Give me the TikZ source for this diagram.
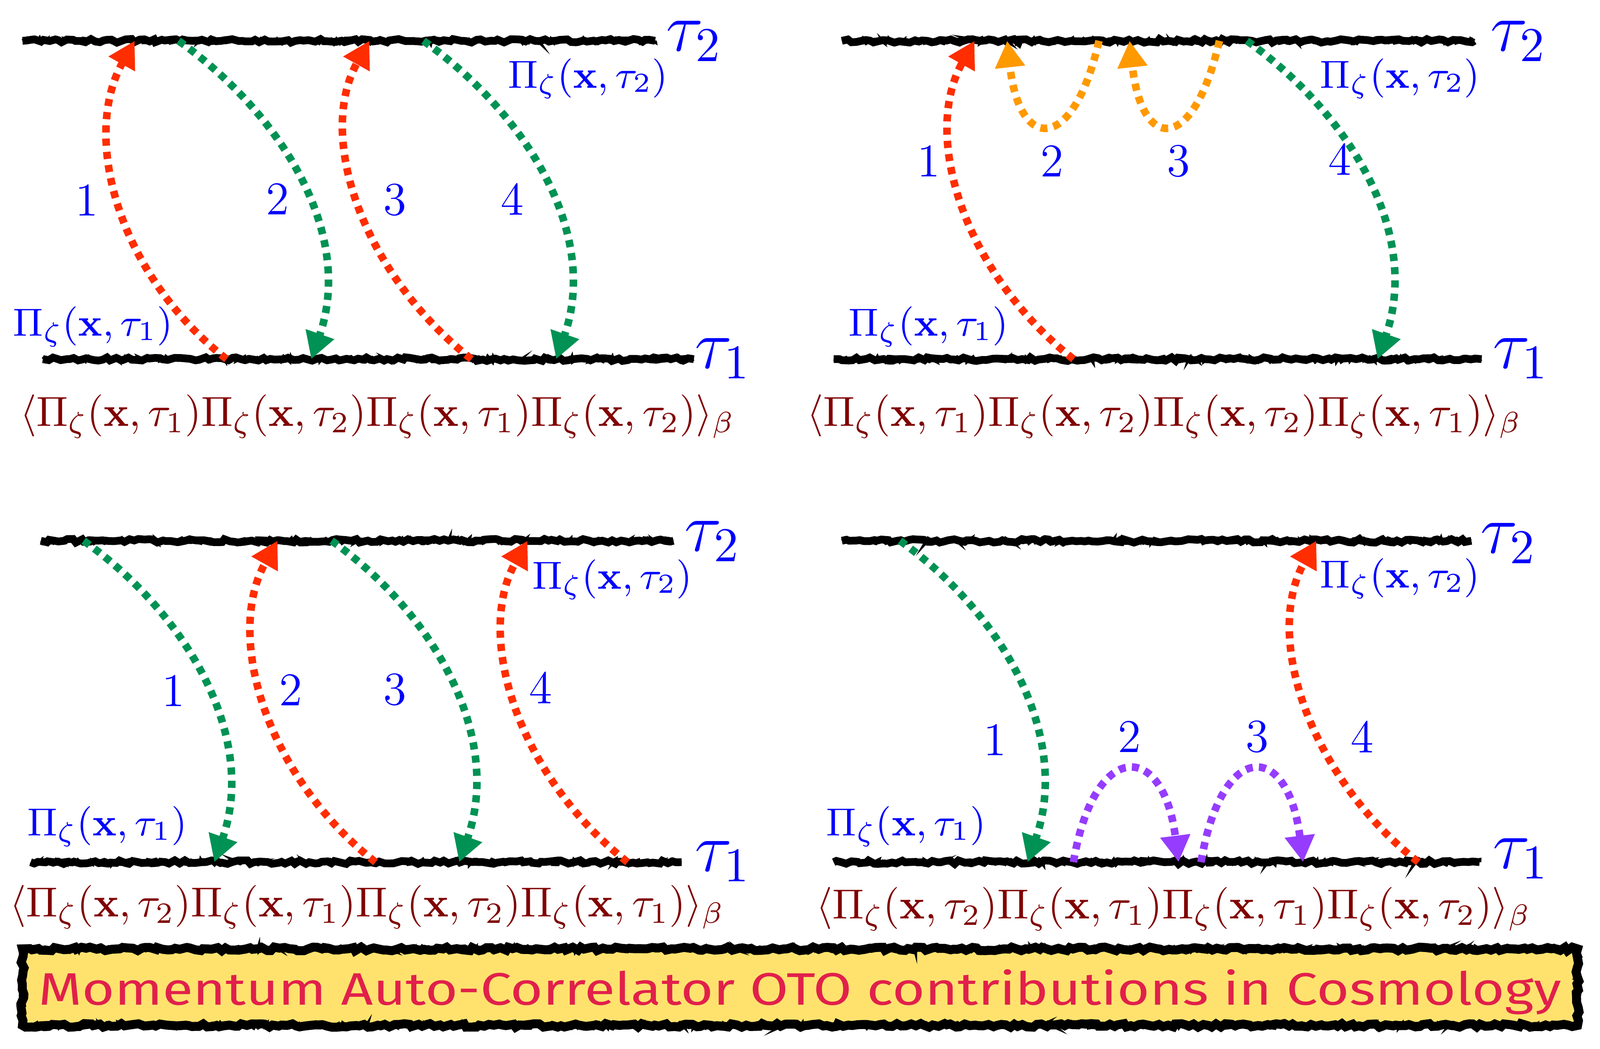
\RequirePackage{fix-cm}
\documentclass[tikz,border=0pt]{standalone}
\usepackage[no-math]{fontspec}
\usepackage{graphicx}
\usetikzlibrary{arrows.meta,decorations.pathmorphing}
\newfontfamily\titlefont{Fira Sans}
\definecolor{arred}{RGB}{255,45,0}
\definecolor{argreen}{RGB}{0,146,84}
\definecolor{arorange}{RGB}{255,153,0}
\definecolor{arpurple}{RGB}{150,60,255}
\definecolor{corrred}{RGB}{128,0,0}
\definecolor{titlefill}{RGB}{255,226,110}
\definecolor{titletext}{RGB}{225,32,75}
\newcommand{\PiZ}[1]{\Pi_\zeta(\mathbf{x},\tau_{#1})}
\tikzset{
  lbl/.style={text=blue, font=\fontsize{9.6}{11}\selectfont, inner sep=0pt},
  num/.style={text=blue, font=\fontsize{11.5}{13}\selectfont, inner sep=0pt},
  taulbl/.style={text=blue, font=\fontsize{17}{20}\selectfont, inner sep=0pt, anchor=base west},
  corr/.style={text=corrred, font=\fontsize{10.3}{12}\selectfont, inner sep=0pt},
  chalk/.style={line width=1.9pt, black, decorate, decoration={random steps, segment length=1.1pt, amplitude=0.45pt}},
  chalkb/.style={line width=0.8pt, black, decorate, decoration={random steps, segment length=0.8pt, amplitude=0.7pt}},
  arr/.style={line width=1.85pt, dash pattern=on 1.75pt off 1.5pt, -{Triangle[length=6.5pt,width=7pt]}},
  redarr/.style={arr, draw=arred, arred},
  greenarr/.style={arr, draw=argreen, argreen},
  orarr/.style={arr, draw=arorange, arorange},
  puarr/.style={arr, draw=arpurple, arpurple},
}
\newcommand{\upleft}[2]{\draw[redarr] (#1) .. controls +(-108,-85) and +(-52,93) .. (#2);}
\newcommand{\downright}[2]{\draw[greenarr] (#1) .. controls +(105,75) and +(42,-120) .. (#2);}
\newcommand{\chalkline}[2]{\draw[chalk] (#1) -- (#2); \draw[chalkb] (#1) -- (#2);}
\begin{document}
\begin{tikzpicture}[x=0.25pt,y=-0.25pt]
\useasboundingbox (0,0) rectangle (1568,1028);

% ---------------- Top-left panel ----------------
\coordinate (tlTa) at (22,40);  \coordinate (tlTb) at (642,40);
\coordinate (tlBa) at (42,352); \coordinate (tlBb) at (680,352);
\chalkline{tlTa}{tlTb}
\chalkline{tlBa}{tlBb}
\node[taulbl] (tltau2) at (652,50) {$\tau_2$};
\node[taulbl] (tltau1) at (680,361) {$\tau_1$};
\node[lbl] (tlpi2) at (576,77) {$\PiZ{2}$};
\node[lbl] (tlpi1) at (91,320) {$\PiZ{1}$};
\node[corr] (tlcorr) at (370,408) {$\langle\PiZ{1}\PiZ{2}\PiZ{1}\PiZ{2}\rangle_\beta$};
\coordinate (tl1s) at (222,352); \coordinate (tl1e) at (132,40);
\coordinate (tl2s) at (175,40);  \coordinate (tl2e) at (305,352);
\coordinate (tl3s) at (462,352); \coordinate (tl3e) at (362,40);
\coordinate (tl4s) at (415,40);  \coordinate (tl4e) at (545,352);
\upleft{tl1s}{tl1e}
\downright{tl2s}{tl2e}
\upleft{tl3s}{tl3e}
\downright{tl4s}{tl4e}
\node[num] (tln1) at (85,196) {1};
\node[num] (tln2) at (272,195) {2};
\node[num] (tln3) at (387,196) {3};
\node[num] (tln4) at (502,195) {4};

% ---------------- Top-right panel ----------------
\coordinate (trTa) at (825,40);  \coordinate (trTb) at (1445,40);
\coordinate (trBa) at (817,352); \coordinate (trBb) at (1452,352);
\chalkline{trTa}{trTb}
\chalkline{trBa}{trBb}
\node[taulbl] (trtau2) at (1460,50) {$\tau_2$};
\node[taulbl] (trtau1) at (1462,361) {$\tau_1$};
\node[lbl] (trpi2) at (1372,77) {$\PiZ{2}$};
\node[lbl] (trpi1) at (910,320) {$\PiZ{1}$};
\node[corr] (trcorr) at (1141,408) {$\langle\PiZ{1}\PiZ{2}\PiZ{2}\PiZ{1}\rangle_\beta$};
\coordinate (tr1s) at (1052,352); \coordinate (tr1e) at (955,40);
\coordinate (tr2s) at (1077,40);  \coordinate (tr2e) at (987,40);
\coordinate (tr3s) at (1195,40);  \coordinate (tr3e) at (1107,40);
\coordinate (tr4s) at (1222,40);  \coordinate (tr4e) at (1350,352);
\upleft{tr1s}{tr1e}
\draw[orarr] (tr2s) .. controls +(-25,110) and +(12,110) .. (tr2e);
\draw[orarr] (tr3s) .. controls +(-25,110) and +(12,110) .. (tr3e);
\downright{tr4s}{tr4e}
\node[num] (trn1) at (910,158) {1};
\node[num] (trn2) at (1031,158) {2};
\node[num] (trn3) at (1155,158) {3};
\node[num] (trn4) at (1313,156) {4};

% ---------------- Bottom-left panel ----------------
\coordinate (blTa) at (40,530);  \coordinate (blTb) at (660,530);
\coordinate (blBa) at (30,845);  \coordinate (blBb) at (668,845);
\chalkline{blTa}{blTb}
\chalkline{blBa}{blBb}
\node[taulbl] (bltau2) at (670,540) {$\tau_2$};
\node[taulbl] (bltau1) at (680,854) {$\tau_1$};
\node[lbl] (blpi2) at (600,568) {$\PiZ{2}$};
\node[lbl] (blpi1) at (105,810) {$\PiZ{1}$};
\node[corr] (blcorr) at (360,889) {$\langle\PiZ{2}\PiZ{1}\PiZ{2}\PiZ{1}\rangle_\beta$};
\coordinate (bl1s) at (82,530);  \coordinate (bl1e) at (210,845);
\coordinate (bl2s) at (368,845); \coordinate (bl2e) at (272,530);
\coordinate (bl3s) at (325,530); \coordinate (bl3e) at (450,845);
\coordinate (bl4s) at (615,845); \coordinate (bl4e) at (517,530);
\downright{bl1s}{bl1e}
\upleft{bl2s}{bl2e}
\downright{bl3s}{bl3e}
\upleft{bl4s}{bl4e}
\node[num] (bln1) at (170,677) {1};
\node[num] (bln2) at (285,676) {2};
\node[num] (bln3) at (387,676) {3};
\node[num] (bln4) at (530,674) {4};

% ---------------- Bottom-right panel ----------------
\coordinate (brTa) at (825,530);  \coordinate (brTb) at (1442,530);
\coordinate (brBa) at (817,845);  \coordinate (brBb) at (1450,845);
\chalkline{brTa}{brTb}
\chalkline{brBa}{brBb}
\node[taulbl] (brtau2) at (1450,542) {$\tau_2$};
\node[taulbl] (brtau1) at (1462,851) {$\tau_1$};
\node[lbl] (brpi2) at (1372,567) {$\PiZ{2}$};
\node[lbl] (brpi1) at (888,810) {$\PiZ{1}$};
\node[corr] (brcorr) at (1150,891) {$\langle\PiZ{2}\PiZ{1}\PiZ{1}\PiZ{2}\rangle_\beta$};
\coordinate (br1s) at (882,530);  \coordinate (br1e) at (1007,845);
\coordinate (br2s) at (1052,845); \coordinate (br2e) at (1155,845);
\coordinate (br3s) at (1177,845); \coordinate (br3e) at (1277,845);
\coordinate (br4s) at (1390,845); \coordinate (br4e) at (1290,530);
\downright{br1s}{br1e}
\draw[puarr] (br2s) .. controls +(20,-120) and +(-15,-120) .. (br2e);
\draw[puarr] (br3s) .. controls +(20,-120) and +(-15,-120) .. (br3e);
\upleft{br4s}{br4e}
\node[num] (brn1) at (975,725) {1};
\node[num] (brn2) at (1107,722) {2};
\node[num] (brn3) at (1232,722) {3};
\node[num] (brn4) at (1335,722) {4};

% ---------------- Title box ----------------
\coordinate (boxa) at (22,930); \coordinate (boxb) at (1546,1005);
\fill[titlefill] (boxa) rectangle (boxb);
\draw[chalk, line width=2.2pt] (boxa) rectangle (boxb);
\draw[chalkb] (boxa) rectangle (boxb);
\node[inner sep=0pt, anchor=base, text=titletext] (title) at (784,985)
  {\resizebox{373pt}{8.7pt}{\titlefont Momentum Auto-Correlator OTO contributions in Cosmology}};
\end{tikzpicture}
\end{document}
